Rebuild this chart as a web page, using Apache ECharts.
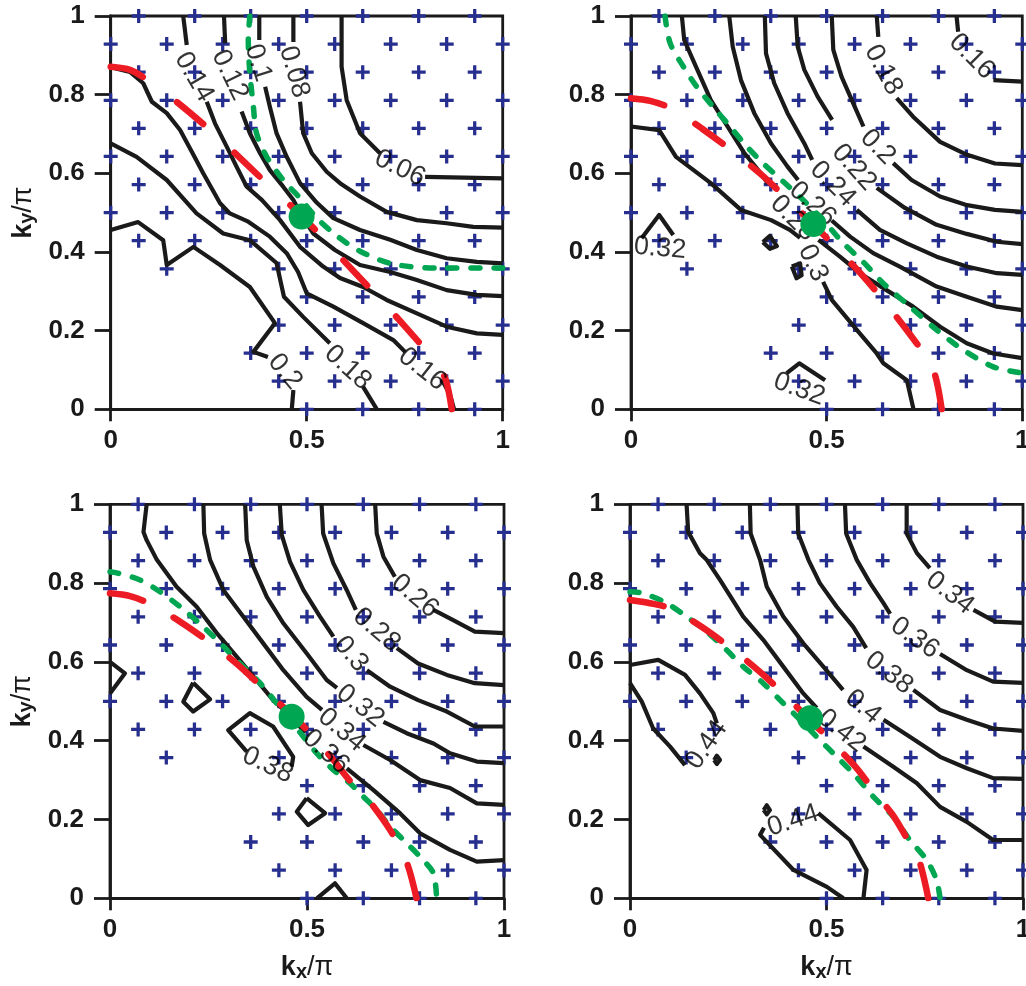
<!DOCTYPE html>
<html><head><meta charset="utf-8">
<script src="https://cdn.jsdelivr.net/npm/echarts@6/dist/echarts.min.js"></script>
<style>html,body{margin:0;padding:0;background:#fff}#c{width:1026px;height:986px}</style>
</head><body><div id="c"></div>
<script>
// ---------- plus-marker k-point mesh (shared by all panels) ----------
const meshK = [0,0.0714,0.1429,0.2143,0.2857,0.3571,0.4286,0.5,0.5714,0.6429,0.7143,0.7857,0.8571,0.9286,1];
const ODD = [1,3,5,7,9,11,13], EVEN = [0,2,4,6,8,10,12,14];
// column indices present in each row (row 0 = ky 0 ... row 14 = ky 1)
const plusRows = [[7,9,11,13],[6,8,10,12,14],[5,7,9,11,13],[6,8,10,12,14],[7,9,11,13],[2,6,8,10,12,14],
  ODD, EVEN, ODD, EVEN, ODD, EVEN, ODD, EVEN, ODD];

// ---------- panel 1 (top-left) ----------
const tl_c006=[[0.589,1.0],[0.589,0.871],[0.602,0.786],[0.636,0.702],[0.687,0.651],null,[0.802,0.591],[1.0,0.587]];
const tl_c008=[[0.466,1.0],[0.466,0.934],null,[0.483,0.782],[0.491,0.702],[0.513,0.651],[0.551,0.604],[0.585,0.575],[0.636,0.541],[0.704,0.502],[0.781,0.481],[0.857,0.473],[0.925,0.464],[1.0,0.462]];
const tl_c010=[[0.379,1.0],[0.379,0.939],null,[0.394,0.820],[0.406,0.769],[0.423,0.702],[0.449,0.642],[0.483,0.575],[0.526,0.525],[0.568,0.486],[0.636,0.456],[0.713,0.431],[0.781,0.405],[0.857,0.384],[0.934,0.375],[1.0,0.371]];
const tl_c012=[[0.289,1.0],[0.292,0.931],null,[0.334,0.757],[0.355,0.702],[0.381,0.651],[0.406,0.608],[0.440,0.566],[0.466,0.532],[0.491,0.486],[0.517,0.447],[0.572,0.405],[0.636,0.367],[0.713,0.349],[0.781,0.329],[0.857,0.303],[0.934,0.291],[1.0,0.288]];
const tl_c014=[[0.185,1.0],[0.194,0.926],null,[0.245,0.782],[0.266,0.727],[0.296,0.668],[0.321,0.617],[0.347,0.566],[0.386,0.532],[0.432,0.481],[0.483,0.413],[0.542,0.363],[0.585,0.334],[0.644,0.311],[0.704,0.278],[0.781,0.244],[0.857,0.210],[0.934,0.193],[1.0,0.189]];
const tl_c016=[[0,0.870],[0.049,0.858],[0.083,0.829],[0.105,0.782],[0.143,0.753],[0.177,0.710],[0.211,0.647],[0.236,0.600],[0.279,0.524],[0.304,0.498],[0.351,0.477],[0.406,0.439],[0.449,0.397],[0.478,0.349],[0.500,0.295],[0.568,0.261],[0.644,0.219],[0.721,0.176],[0.751,0.146],null,[0.845,0.075],[0.866,0.036],[0.876,0]];
const tl_c018=[[0,0.676],[0.066,0.642],[0.143,0.583],[0.219,0.498],[0.287,0.447],[0.355,0.430],[0.423,0.372],[0.442,0.286],[0.491,0.235],[0.559,0.168],null,[0.644,0.057],[0.679,0]];
const tl_c020=[[0,0.456],[0.070,0.476],[0.134,0.430],[0.143,0.367],[0.211,0.413],[0.279,0.367],[0.355,0.311],[0.419,0.219],[0.364,0.146],[0.401,0.133],null,[0.466,0.049],[0.462,0]];
const tl_labels=[['0.06',0.738,0.613,-26],['0.08',0.468,0.858,-74],['0.1',0.376,0.881,-72],['0.12',0.304,0.850,-64],['0.14',0.213,0.845,-60],['0.16',0.795,0.102,-38],['0.18',0.605,0.106,-42],['0.2',0.445,0.096,-50]];
const tl_red=[[0,0.871],[0.049,0.863],[0.100,0.833],[0.168,0.782],[0.249,0.714],[0.313,0.655],[0.389,0.583],[0.453,0.524],[0.526,0.452],[0.585,0.388],[0.657,0.312],[0.717,0.248],[0.785,0.172],[0.827,0.125],[0.855,0.074],[0.870,0]];
const tl_green=[[0.355,1.0],[0.351,0.939],[0.355,0.855],[0.364,0.769],[0.372,0.702],[0.398,0.642],[0.440,0.583],[0.483,0.537],[0.526,0.486],[0.577,0.441],[0.636,0.402],[0.721,0.369],[0.848,0.359],[1.0,0.359]];
const tl_dot=[0.487,0.490];

// ---------- panel 2 (top-right) ----------
const tr_c016=[[0.832,1.0],[0.836,0.960],null,[0.926,0.837],[1.0,0.833]];
const tr_c018=[[0.628,1.0],[0.632,0.947],null,[0.679,0.791],[0.721,0.744],[0.790,0.680],[0.859,0.647],[0.930,0.625],[1.0,0.621]];
const tr_c020=[[0.513,1.0],[0.517,0.914],[0.538,0.846],[0.568,0.778],[0.594,0.719],null,[0.670,0.626],[0.717,0.583],[0.790,0.541],[0.859,0.519],[0.930,0.507],[1.0,0.502]];
const tr_c022=[[0.421,1.0],[0.426,0.922],[0.443,0.863],[0.477,0.795],[0.514,0.736],null,[0.628,0.563],[0.700,0.512],[0.781,0.469],[0.858,0.446],[0.935,0.426],[1.0,0.420]];
const tr_c024=[[0.342,1.0],[0.345,0.905],[0.366,0.829],[0.400,0.753],[0.443,0.676],[0.463,0.634],null,[0.577,0.507],[0.636,0.456],[0.705,0.422],[0.781,0.388],[0.858,0.363],[0.935,0.346],[1.0,0.342]];
const tr_c026=[[0.251,1.0],[0.260,0.922],[0.281,0.837],[0.315,0.753],[0.358,0.676],[0.400,0.617],[0.427,0.583],null,[0.513,0.480],[0.560,0.439],[0.619,0.397],[0.687,0.363],[0.781,0.312],[0.858,0.286],[0.935,0.261],[1.0,0.252]];
const tr_c028=[[0.130,1.0],[0.136,0.939],[0.162,0.880],[0.204,0.786],[0.247,0.719],[0.290,0.651],[0.332,0.600],[0.350,0.573],null,[0.479,0.431],[0.534,0.388],[0.585,0.346],[0.653,0.303],[0.721,0.261],[0.790,0.210],[0.858,0.168],[0.926,0.142],[1.0,0.130]];
const tr_c030=[[0,0.719],[0.072,0.710],[0.115,0.642],[0.204,0.575],[0.281,0.507],[0.358,0.481],[0.406,0.456],[0.432,0.436],null,[0.491,0.324],[0.513,0.278],[0.577,0.202],[0.628,0.142],[0.645,0.117],[0.705,0.074],[0.722,0]];
const tr_c032a=[[0.027,0.435],[0.072,0.494],[0.108,0.443]];
const tr_c032b=[[0.398,0.092],[0.430,0.117],[0.496,0.074]];
const tr_c032c=[[0.337,0.425],[0.355,0.441],[0.373,0.415],[0.355,0.408],[0.337,0.425]];
const tr_c032d=[[0.411,0.363],[0.432,0.371],[0.436,0.341],[0.423,0.333],[0.411,0.363]];
const tr_labels=[['0.16',0.871,0.897,-45],['0.18',0.645,0.863,-62],['0.2',0.631,0.667,-45],['0.22',0.570,0.615,-48],['0.24',0.516,0.573,-45],['0.26',0.464,0.522,-42],['0.28',0.414,0.486,-45],['0.3',0.465,0.372,-65],['0.32',0.074,0.409,-5],['0.32',0.430,0.051,-20]];
const tr_red=[[0,0.791],[0.049,0.784],[0.108,0.763],[0.181,0.714],[0.261,0.655],[0.334,0.596],[0.406,0.528],[0.465,0.471],[0.530,0.405],[0.598,0.333],[0.658,0.261],[0.717,0.185],[0.751,0.138],[0.777,0.087],[0.794,0]];
const tr_green=[[0.087,1.0],[0.100,0.931],[0.134,0.871],[0.168,0.820],[0.210,0.769],[0.253,0.719],[0.296,0.668],[0.338,0.625],[0.389,0.579],[0.440,0.532],[0.491,0.481],[0.542,0.423],[0.593,0.375],[0.645,0.320],[0.713,0.261],[0.781,0.202],[0.849,0.151],[0.926,0.108],[1.0,0.092]];
const tr_dot=[0.466,0.471];

// ---------- panel 3 (bottom-left) ----------
const bl_c026=[[0.673,1.0],[0.677,0.926],[0.694,0.867],[0.723,0.816],null,[0.821,0.732],[0.871,0.706],[0.926,0.677],[1.0,0.673]];
const bl_c028=[[0.537,1.0],[0.541,0.926],[0.567,0.850],[0.601,0.782],[0.624,0.732],null,[0.728,0.635],[0.782,0.596],[0.855,0.567],[0.926,0.546],[1.0,0.541]];
const bl_c030=[[0.431,1.0],[0.436,0.922],[0.457,0.854],[0.491,0.782],[0.533,0.715],[0.567,0.664],null,[0.652,0.579],[0.711,0.537],[0.782,0.503],[0.855,0.474],[0.926,0.436],[1.0,0.436]];
const bl_c032=[[0.343,1.0],[0.347,0.909],[0.364,0.842],[0.398,0.765],[0.440,0.698],[0.499,0.622],[0.550,0.554],[0.576,0.534],null,[0.694,0.448],[0.753,0.419],[0.821,0.393],[0.863,0.368],[0.931,0.347],[1.0,0.343]];
const bl_c034=[[0.237,1.0],[0.239,0.926],[0.254,0.859],[0.288,0.782],[0.338,0.715],[0.389,0.647],[0.440,0.579],[0.499,0.511],[0.538,0.478],null,[0.643,0.389],[0.711,0.351],[0.787,0.300],[0.863,0.280],[0.931,0.241],[1.0,0.237]];
const bl_c036=[[0.093,1.0],[0.085,0.930],[0.093,0.909],[0.119,0.859],[0.169,0.791],[0.220,0.740],[0.271,0.673],[0.322,0.613],[0.372,0.554],[0.414,0.503],[0.461,0.461],[0.495,0.420],null,[0.601,0.330],[0.668,0.275],[0.736,0.216],[0.787,0.165],[0.863,0.123],[0.931,0.093],[1.0,0.097]];
const bl_c038a=[[0,0.600],[0.038,0.571],[0,0.520]];
const bl_c038b=[[0.211,0.547],[0.254,0.505],[0.211,0.474],[0.186,0.499],[0.211,0.547]];
const bl_c038c=[[0.347,0.372],[0.300,0.427],[0.355,0.470],[0.414,0.436],[0.465,0.359],[0.461,0.334]];
const bl_c038d=[[0.499,0.254],[0.546,0.216],[0.503,0.186],[0.474,0.220],[0.499,0.254]];
const bl_c038e=[[0.525,0],[0.571,0.038],[0.601,0]];
const bl_labels=[['0.26',0.774,0.767,-40],['0.28',0.677,0.681,-40],['0.3',0.612,0.620,-50],['0.32',0.635,0.488,-38],['0.34',0.588,0.427,-40],['0.36',0.548,0.372,-42],['0.38',0.400,0.338,-25]];
const bl_red=[[0,0.774],[0.051,0.767],[0.102,0.747],[0.178,0.702],[0.262,0.643],[0.330,0.588],[0.406,0.516],[0.457,0.470],[0.508,0.419],[0.567,0.351],[0.609,0.298],[0.652,0.254],[0.711,0.173],[0.753,0.092],[0.778,0]];
const bl_green=[[0,0.829],[0.017,0.826],[0.076,0.808],[0.127,0.778],[0.178,0.740],[0.237,0.689],[0.288,0.639],[0.330,0.596],[0.381,0.546],[0.423,0.495],[0.457,0.453],[0.491,0.410],[0.525,0.368],[0.567,0.326],[0.609,0.292],[0.643,0.258],[0.677,0.224],[0.711,0.182],[0.753,0.140],[0.795,0.097],[0.821,0.063],[0.829,0]];
const bl_dot=[0.461,0.461];

// ---------- panel 4 (bottom-right) ----------
const br_c034=[[0.704,1.0],[0.704,0.926],[0.730,0.876],[0.763,0.838],null,[0.874,0.732],[0.929,0.702],[1.0,0.699]];
const br_c036=[[0.547,1.0],[0.550,0.926],[0.577,0.859],[0.611,0.800],[0.645,0.749],[0.662,0.722],null,[0.789,0.620],[0.857,0.579],[0.924,0.550],[1.0,0.547]];
const br_c038=[[0.426,1.0],[0.428,0.926],[0.454,0.859],[0.483,0.800],[0.526,0.740],[0.568,0.689],[0.601,0.635],null,[0.721,0.529],[0.789,0.478],[0.857,0.453],[0.924,0.431],[1.0,0.425]];
const br_c040=[[0.305,1.0],[0.307,0.926],[0.331,0.859],[0.348,0.791],[0.390,0.715],[0.441,0.647],[0.492,0.588],[0.542,0.529],null,[0.645,0.453],[0.712,0.410],[0.789,0.359],[0.857,0.330],[0.924,0.305],[1.0,0.303]];
const br_c042=[[0.144,1.0],[0.148,0.930],[0.178,0.876],[0.195,0.859],[0.229,0.808],[0.288,0.715],[0.339,0.656],[0.390,0.588],[0.441,0.520],[0.475,0.483],null,[0.594,0.385],[0.670,0.334],[0.730,0.292],[0.789,0.232],[0.857,0.194],[0.924,0.148],[1.0,0.148]];
const br_c044a=[[0,0.592],[0.072,0.605],[0.140,0.567],[0.178,0.520],[0.212,0.470],[0.221,0.444]];
const br_c044b=[[0,0.546],[0.030,0.499],[0.059,0.431],[0.102,0.385],[0.140,0.338]];
const br_c044c=[[0.543,0],[0.501,0.029],[0.416,0.072],[0.331,0.161],[0.341,0.179],null,[0.479,0.216],[0.560,0.148],[0.602,0.072],[0.594,0]];
const br_c044d=[[0.214,0.351],[0.221,0.362],[0.229,0.351],[0.221,0.341],[0.214,0.351]];
const br_c044e=[[0.340,0.224],[0.348,0.236],[0.356,0.224],[0.348,0.213],[0.340,0.224]];
const br_labels=[['0.34',0.814,0.775,-38],['0.36',0.725,0.661,-35],['0.38',0.659,0.572,-38],['0.4',0.593,0.486,-40],['0.42',0.539,0.425,-38],['0.44',0.195,0.389,55],['0.44',0.415,0.197,18]];
const br_red=[[0,0.757],[0.051,0.749],[0.102,0.736],[0.182,0.689],[0.263,0.630],[0.335,0.571],[0.407,0.503],[0.453,0.457],[0.505,0.406],[0.577,0.330],[0.628,0.262],[0.669,0.211],[0.707,0.148],[0.734,0.102],[0.759,0]];
const br_green=[[0,0.778],[0.034,0.774],[0.093,0.749],[0.144,0.715],[0.195,0.677],[0.246,0.630],[0.288,0.588],[0.339,0.546],[0.390,0.495],[0.433,0.453],[0.475,0.410],[0.517,0.368],[0.568,0.317],[0.619,0.258],[0.670,0.207],[0.712,0.148],[0.755,0.097],[0.780,0.046],[0.789,0]];
const br_dot=[0.458,0.457];

// ---------- assemble ----------
const BLACK='#1a1a1a', RED='#ed1c24', GREEN='#00a651', BLUE='#262e8e';
const FONT='Liberation Sans';
const panelContours=[
  [tl_c006,tl_c008,tl_c010,tl_c012,tl_c014,tl_c016,tl_c018,tl_c020],
  [tr_c016,tr_c018,tr_c020,tr_c022,tr_c024,tr_c026,tr_c028,tr_c030,tr_c032a,tr_c032b,tr_c032c,tr_c032d],
  [bl_c026,bl_c028,bl_c030,bl_c032,bl_c034,bl_c036,bl_c038a,bl_c038b,bl_c038c,bl_c038d,bl_c038e],
  [br_c034,br_c036,br_c038,br_c040,br_c042,br_c044a,br_c044b,br_c044c,br_c044d,br_c044e]
];
const panelLabels=[tl_labels,tr_labels,bl_labels,br_labels];
const panelRed=[tl_red,tr_red,bl_red,br_red];
const panelGreen=[tl_green,tr_green,bl_green,br_green];
const panelDot=[tl_dot,tr_dot,bl_dot,br_dot];

const gridBoxes=[
  {left:110.7,top:16,width:392,height:393.3},
  {left:631,top:16,width:391.3,height:393.3},
  {left:110,top:504.3,width:394,height:394},
  {left:630,top:504.3,width:393,height:394}
];

const plusPts=[];
plusRows.forEach((cols,j)=>cols.forEach(i=>plusPts.push([meshK[i],meshK[j]])));

function splitSegs(pts){const out=[];let cur=[];pts.forEach(p=>{if(p===null){if(cur.length)out.push(cur);cur=[];}else cur.push(p);});if(cur.length)out.push(cur);return out;}
const fmt=v=>(v===0?'0':v===1?'1':String(+v.toFixed(1)));
const nameRich={
  k:{fontSize:27,fontWeight:'bold',fontFamily:FONT,color:BLACK,lineHeight:28,verticalAlign:'top',padding:[0,0,8,0]},
  s:{fontSize:20,fontWeight:'bold',fontFamily:FONT,color:BLACK,lineHeight:20,verticalAlign:'bottom'},
  p:{fontSize:27,fontFamily:FONT,color:BLACK,lineHeight:28,verticalAlign:'top',padding:[0,0,8,0]}
};
const RED_W=6.5, RED_DASH=34, RED_PERIOD=73;

const grid=[],xAxis=[],yAxis=[],series=[];
gridBoxes.forEach((g,k)=>{
  grid.push(Object.assign({show:true,borderColor:BLACK,borderWidth:2.8,backgroundColor:'transparent',
    containLabel:false,outerBoundsMode:'none'},g));
  xAxis.push({gridIndex:k,type:'value',min:0,max:1,interval:0.5,
    axisLine:{show:true,onZero:false,lineStyle:{color:BLACK,width:2.8}},
    axisTick:{show:true,length:12,lineStyle:{color:BLACK,width:2.8}},
    axisLabel:{fontSize:26,fontWeight:'bold',fontFamily:FONT,color:BLACK,margin:19,formatter:fmt},
    splitLine:{show:false},
    name:k>=2?'{k|k}{s|x}{p|/π}':'',nameLocation:'middle',nameGap:56,nameTextStyle:{rich:nameRich}});
  yAxis.push({gridIndex:k,type:'value',min:0,max:1,interval:0.2,
    axisLine:{show:true,onZero:false,lineStyle:{color:BLACK,width:2.8}},
    axisTick:{show:true,length:16,lineStyle:{color:BLACK,width:2.8}},
    axisLabel:{fontSize:26,fontWeight:'bold',fontFamily:FONT,color:BLACK,margin:26,formatter:fmt},
    splitLine:{show:false},
    name:(k%2===0)?'{k|k}{s|y}{p|/π}':'',nameLocation:'middle',nameGap:64,nameRotate:90,nameTextStyle:{rich:nameRich}});

  series.push({type:'scatter',xAxisIndex:k,yAxisIndex:k,data:plusPts,silent:true,z:2,
    symbol:'path://M-1.4,-6H1.4V-1.4H6V1.4H1.4V6H-1.4V1.4H-6V-1.4H-1.4Z',symbolSize:14,
    itemStyle:{color:BLUE,opacity:1}});
  panelContours[k].forEach(c=>splitSegs(c).forEach(seg=>series.push({type:'line',xAxisIndex:k,yAxisIndex:k,data:seg,
    symbol:'none',silent:true,z:3,lineStyle:{color:BLACK,width:4.2,join:'round'}})));
  series.push({type:'line',xAxisIndex:k,yAxisIndex:k,data:panelGreen[k],symbol:'none',silent:true,z:4,smooth:0.3,
    lineStyle:{color:GREEN,width:5.5,type:[9,14],cap:'round'}});
  series.push({id:'red'+k,type:'line',xAxisIndex:k,yAxisIndex:k,data:panelRed[k],symbol:'none',silent:true,z:5,smooth:0.3,
    lineStyle:{color:RED,width:RED_W,type:[RED_DASH,RED_PERIOD-RED_DASH],cap:'round'}});
  series.push({type:'scatter',xAxisIndex:k,yAxisIndex:k,silent:true,z:6,symbolSize:1,
    itemStyle:{color:'rgba(0,0,0,0)'},
    label:{show:true,position:'inside',formatter:'{b}',color:'#000',fontSize:27,fontFamily:FONT},
    data:panelLabels[k].map(l=>({name:l[0],value:[l[1],l[2]],label:{rotate:l[3]}}))});
  series.push({type:'scatter',xAxisIndex:k,yAxisIndex:k,silent:true,z:10,symbolSize:26,
    itemStyle:{color:GREEN,opacity:1},data:[panelDot[k]]});
});

const chart=echarts.init(document.getElementById('c'),null,{renderer:'canvas'});
chart.setOption({animation:false,backgroundColor:'#fff',grid,xAxis,yAxis,series});

// fit the red dash period so the dashed curve starts and ends with a full dash (as in the original)
const upd=[];
panelRed.forEach((pts,k)=>{
  let L=0,prev=null;
  pts.forEach(p=>{const q=chart.convertToPixel({gridIndex:k},p);if(prev)L+=Math.hypot(q[0]-prev[0],q[1]-prev[1]);prev=q;});
  const n=Math.max(1,Math.round((L-RED_DASH)/RED_PERIOD));
  const P=(L-RED_DASH)/n;
  upd.push({id:'red'+k,lineStyle:{type:[RED_DASH,P-RED_DASH]}});
});
chart.setOption({series:upd});
</script></body></html>
